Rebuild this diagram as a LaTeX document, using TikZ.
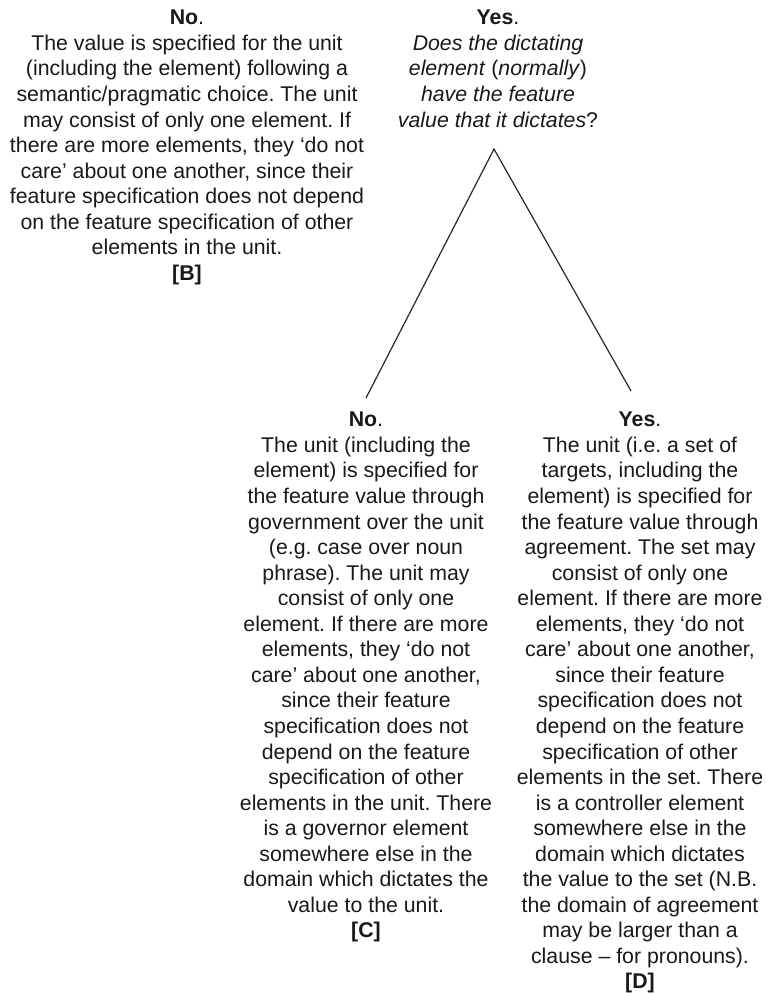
\documentclass[tikz,border=0pt]{standalone}
\usepackage{fontspec}
\setmainfont{Liberation Sans}
\begin{document}
\frenchspacing
\begin{tikzpicture}[x=1pt,y=-1pt,
  txt/.style={align=center,inner sep=0pt,anchor=north,text=black!90,
    font=\fontsize{21.3}{25.55}\selectfont},
  branch/.style={line width=1.2pt,black!85}]
\useasboundingbox (0,0) rectangle (773,994);

% top-level outcomes
\node[txt] (B) at (187,10) {\textbf{No}.\\
The value is specified for the unit\\
(including the element) following a\\
semantic/pragmatic choice. The unit\\
may consist of only one element. If\\
there are more elements, they ‘do not\\
care’ about one another, since their\\
feature specification does not depend\\
on the feature specification of other\\
elements in the unit.\\
\textbf{[B]}};

\node[txt] (Q) at (498,10) {\textbf{Yes}.\\
\textit{Does the dictating}\\
\textit{element} (\textit{normally})\\
\textit{have the feature}\\
\textit{value that it dictates}?};

% second-level outcomes
\node[txt] (C) at (366,412) {\textbf{No}.\\
The unit (including the\\
element) is specified for\\
the feature value through\\
government over the unit\\
(e.g. case over noun\\
phrase). The unit may\\
consist of only one\\
element. If there are more\\
elements, they ‘do not\\
care’ about one another,\\
since their feature\\
specification does not\\
depend on the feature\\
specification of other\\
elements in the unit. There\\
is a governor element\\
somewhere else in the\\
domain which dictates the\\
value to the unit.\\
\textbf{[C]}};

\node[txt] (D) at (640,412) {\textbf{Yes}.\\
The unit (i.e. a set of\\
targets, including the\\
element) is specified for\\
the feature value through\\
agreement. The set may\\
consist of only one\\
element. If there are more\\
elements, they ‘do not\\
care’ about one another,\\
since their feature\\
specification does not\\
depend on the feature\\
specification of other\\
elements in the set. There\\
is a controller element\\
somewhere else in the\\
domain which dictates\\
the value to the set (N.B.\\
the domain of agreement\\
may be larger than a\\
clause – for pronouns).\\
\textbf{[D]}};

% branching from the question
\coordinate (apex) at (494,149);
\coordinate (cend) at (366,398);
\coordinate (dend) at (631,391);
\draw[branch] (cend) -- (apex) -- (dend);
\end{tikzpicture}
\end{document}
